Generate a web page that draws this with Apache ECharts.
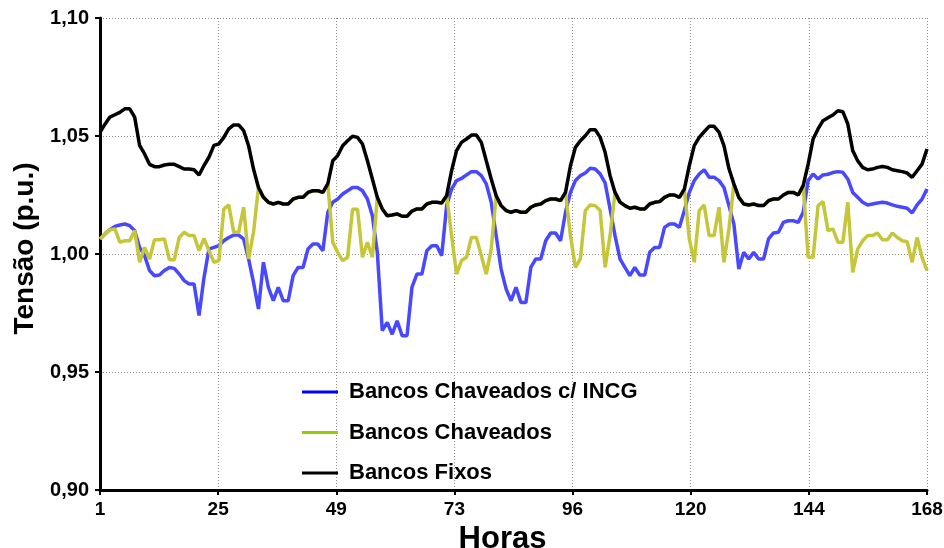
<!DOCTYPE html>
<html>
<head>
<meta charset="utf-8">
<script src="https://cdn.jsdelivr.net/npm/echarts@6/dist/echarts.min.js"></script>
<style>html,body{margin:0;padding:0;background:#fff;}#c{width:944px;height:548px;}</style>
</head>
<body>
<div id="c"></div>
<script>
var hours = [];
for (var i = 1; i <= 168; i++) hours.push(i);

var xTickLabels = ['1', '25', '49', '73', '96', '120', '144', '168'];
var yTickLabels = ['0,90', '0,95', '1,00', '1,05', '1,10'];
var seriesNames = ['Bancos Chaveados c/ INCG', 'Bancos Chaveados', 'Bancos Fixos'];

var incg = [
1.0064,1.0085,1.0103,1.0117,1.0123,1.0127,1.0120,1.0099,1.0028,0.9993,
0.9930,0.9908,0.9911,0.9930,0.9943,0.9939,0.9915,0.9887,0.9873,0.9873,
0.9739,0.9900,1.0021,1.0028,1.0035,1.0056,1.0070,1.0080,1.0080,1.0064,
0.9979,0.9880,0.9767,0.9965,0.9859,0.9802,0.9859,0.9802,0.9802,0.9908,
0.9943,0.9943,1.0021,1.0042,1.0042,1.0014,1.0177,1.0219,1.0233,1.0254,
1.0268,1.0282,1.0282,1.0268,1.0233,1.0162,1.0007,0.9675,0.9710,0.9660,
0.9717,0.9654,0.9654,0.9860,0.9915,0.9915,1.0014,1.0035,1.0035,0.9993,
1.0205,1.0275,1.0311,1.0320,1.0335,1.0349,1.0349,1.0332,1.0297,1.0219,
1.0078,0.9936,0.9852,0.9802,0.9859,0.9795,0.9795,0.9943,0.9979,0.9979,
1.0056,1.0089,1.0089,1.0056,1.0177,1.0261,1.0311,1.0332,1.0343,1.0363,
1.0360,1.0339,1.0301,1.0191,1.0078,0.9979,0.9943,0.9908,0.9943,0.9911,
0.9911,1.0007,1.0028,1.0028,1.0113,1.0127,1.0127,1.0113,1.0184,1.0261,
1.0311,1.0339,1.0357,1.0325,1.0325,1.0311,1.0282,1.0205,1.0127,0.9936,
1.0007,0.9979,1.0007,0.9979,0.9979,1.0064,1.0089,1.0092,1.0134,1.0141,
1.0141,1.0134,1.0177,1.0311,1.0339,1.0318,1.0335,1.0338,1.0345,1.0349,
1.0346,1.0318,1.0261,1.0240,1.0219,1.0208,1.0212,1.0216,1.0219,1.0216,
1.0208,1.0202,1.0198,1.0194,1.0174,1.0208,1.0233,1.0275
];

var chaveados = [
1.0064,1.0085,1.0103,1.0106,1.0050,1.0056,1.0056,1.0099,0.9965,1.0028,
0.9979,1.0060,1.0060,1.0064,0.9976,0.9976,1.0070,1.0092,1.0078,1.0078,
1.0014,1.0066,1.0014,0.9965,0.9972,1.0190,1.0208,1.0092,1.0092,1.0198,
0.9979,1.0092,1.0282,1.0240,1.0219,1.0212,1.0219,1.0212,1.0212,1.0233,
1.0240,1.0240,1.0261,1.0268,1.0268,1.0261,1.0297,1.0050,1.0007,0.9972,
0.9986,1.0190,1.0190,0.9986,1.0050,0.9986,1.0240,1.0191,1.0162,1.0165,
1.0170,1.0160,1.0160,1.0182,1.0191,1.0191,1.0212,1.0219,1.0219,1.0216,
1.0247,1.0078,0.9915,0.9972,0.9986,1.0070,1.0070,0.9993,0.9915,1.0021,
1.0247,1.0205,1.0184,1.0177,1.0184,1.0177,1.0177,1.0198,1.0208,1.0212,
1.0226,1.0233,1.0233,1.0226,1.0261,1.0078,0.9943,0.9979,1.0184,1.0208,
1.0205,1.0184,0.9943,1.0078,1.0261,1.0220,1.0205,1.0194,1.0198,1.0191,
1.0191,1.0212,1.0219,1.0222,1.0240,1.0250,1.0250,1.0240,1.0275,1.0064,
0.9965,1.0184,1.0208,1.0078,1.0078,1.0198,0.9965,1.0106,1.0297,1.0240,
1.0212,1.0208,1.0212,1.0205,1.0205,1.0226,1.0233,1.0233,1.0250,1.0261,
1.0261,1.0250,1.0290,0.9986,0.9986,1.0205,1.0222,1.0099,1.0106,1.0050,
1.0050,1.0219,0.9922,1.0021,1.0056,1.0078,1.0078,1.0089,1.0060,1.0060,
1.0089,1.0070,1.0056,1.0052,0.9965,1.0070,0.9986,0.9930
];

var fixos = [
1.0516,1.0550,1.0580,1.0590,1.0600,1.0615,1.0615,1.0580,1.0460,1.0424,
1.0380,1.0370,1.0370,1.0377,1.0380,1.0380,1.0370,1.0360,1.0360,1.0357,
1.0335,1.0375,1.0410,1.0460,1.0466,1.0494,1.0530,1.0547,1.0547,1.0523,
1.0459,1.0360,1.0282,1.0240,1.0219,1.0212,1.0219,1.0212,1.0212,1.0233,
1.0240,1.0240,1.0261,1.0268,1.0268,1.0261,1.0297,1.0395,1.0417,1.0459,
1.0480,1.0499,1.0494,1.0466,1.0395,1.0318,1.0240,1.0191,1.0162,1.0165,
1.0170,1.0160,1.0160,1.0182,1.0191,1.0191,1.0212,1.0219,1.0219,1.0216,
1.0247,1.0353,1.0438,1.0473,1.0487,1.0504,1.0504,1.0473,1.0395,1.0318,
1.0247,1.0205,1.0184,1.0177,1.0184,1.0177,1.0177,1.0198,1.0208,1.0212,
1.0226,1.0233,1.0233,1.0226,1.0261,1.0374,1.0452,1.0480,1.0501,1.0527,
1.0527,1.0494,1.0431,1.0332,1.0261,1.0220,1.0205,1.0194,1.0198,1.0191,
1.0191,1.0212,1.0219,1.0222,1.0240,1.0250,1.0250,1.0240,1.0275,1.0374,
1.0459,1.0494,1.0518,1.0541,1.0541,1.0516,1.0459,1.0362,1.0297,1.0240,
1.0212,1.0208,1.0212,1.0205,1.0205,1.0226,1.0233,1.0233,1.0250,1.0261,
1.0261,1.0250,1.0290,1.0381,1.0487,1.0530,1.0565,1.0577,1.0589,1.0607,
1.0603,1.0551,1.0438,1.0395,1.0367,1.0357,1.0360,1.0367,1.0371,1.0367,
1.0357,1.0353,1.0349,1.0343,1.0325,1.0353,1.0381,1.0445
];

function pairs(vals) {
  return hours.map(function (h, i) { return [h, vals[i]]; });
}

var chart = echarts.init(document.getElementById('c'), null, { renderer: 'canvas' });
var gridLine = { show: true, lineStyle: { color: '#8c8c8c', type: [1, 2], width: 1 } };

chart.setOption({
  animation: false,
  backgroundColor: '#ffffff',
  grid: { left: 100, right: 17, top: 18, bottom: 58, outerBoundsMode: 'none', containLabel: false },
  legend: {
    orient: 'vertical',
    left: 297,
    top: 376,
    icon: 'rect',
    itemWidth: 36,
    itemHeight: 3,
    itemGap: 18.5,
    textStyle: {
      fontFamily: 'Liberation Sans, Arial, sans-serif',
      fontSize: 22,
      fontWeight: 'bold',
      color: '#000',
      lineHeight: 22,
      padding: [0, 0, 0, 6]
    },
    data: [
      { name: seriesNames[0], itemStyle: { color: '#0000ff' } },
      { name: seriesNames[1], itemStyle: { color: '#99cc00' } },
      { name: seriesNames[2], itemStyle: { color: '#000000' } }
    ]
  },
  xAxis: [
    {
      type: 'value', min: 0, max: 7, interval: 1,
      name: 'Horas', nameLocation: 'middle', nameGap: 26,
      nameTextStyle: {
        fontFamily: 'Liberation Sans Narrow, Arial Narrow, Liberation Sans, sans-serif',
        fontSize: 31, fontWeight: 'bold', color: '#000', padding: [0, 22, 0, 0]
      },
      axisLine: { show: true, lineStyle: { color: '#000', width: 3 } },
      axisTick: { show: true, length: 5, lineStyle: { color: '#000', width: 2 } },
      axisLabel: {
        margin: 10,
        fontFamily: 'Liberation Sans Narrow, Arial Narrow, Liberation Sans, sans-serif',
        fontSize: 19, fontWeight: 'bold', color: '#000',
        formatter: function (v) { return xTickLabels[Math.round(v)]; }
      },
      splitLine: gridLine
    },
    {
      type: 'value', min: 1, max: 168, show: false
    }
  ],
  yAxis: {
    type: 'value', min: 0.90, max: 1.10, interval: 0.05,
    name: 'Tensão (p.u.)', nameLocation: 'middle', nameGap: 58,
    nameTextStyle: {
      fontFamily: 'Liberation Sans, Arial, sans-serif',
      fontSize: 28, fontWeight: 'bold', color: '#000', padding: [0, 0, 0, 11]
    },
    axisLine: { show: true, lineStyle: { color: '#000', width: 3 } },
    axisTick: { show: true, length: 5, lineStyle: { color: '#000', width: 2 } },
    axisLabel: {
      margin: 11,
      fontFamily: 'Liberation Sans, Arial, sans-serif',
      fontSize: 20, fontWeight: 'bold', color: '#000',
      formatter: function (v) { return yTickLabels[Math.round((v - 0.90) / 0.05)]; }
    },
    splitLine: gridLine
  },
  series: [
    { name: seriesNames[0], type: 'line', xAxisIndex: 1, data: pairs(incg), symbol: 'none',
      lineStyle: { color: '#4848ff', width: 3.5 }, itemStyle: { color: '#4848ff' }, z: 2 },
    { name: seriesNames[1], type: 'line', xAxisIndex: 1, data: pairs(chaveados), symbol: 'none',
      lineStyle: { color: '#c6c63a', width: 3.5 }, itemStyle: { color: '#c6c63a' }, z: 3 },
    { name: seriesNames[2], type: 'line', xAxisIndex: 1, data: pairs(fixos), symbol: 'none',
      lineStyle: { color: '#000000', width: 3.5 }, itemStyle: { color: '#000000' }, z: 4 }
  ]
});
</script>
</body>
</html>
